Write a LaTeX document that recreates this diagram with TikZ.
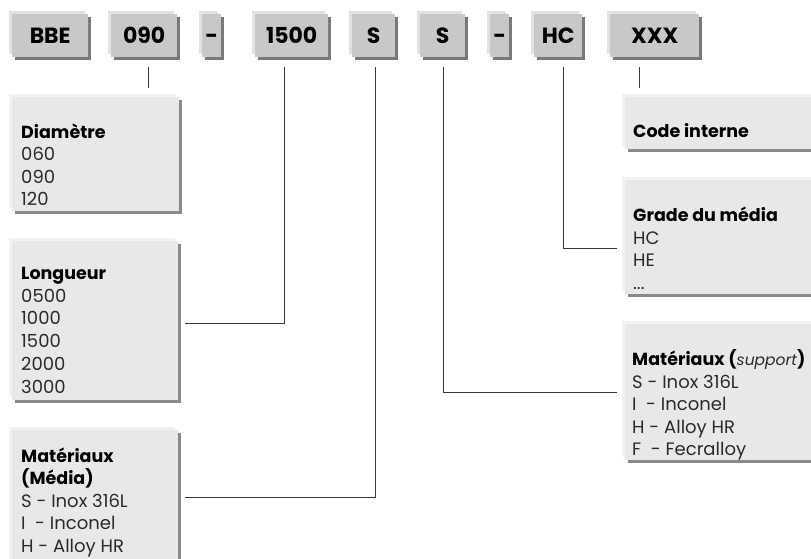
\documentclass[tikz,border=0pt]{standalone}
\usepackage{fontspec}
\setmainfont{Poppins}
\usetikzlibrary{shadows}
\definecolor{cbfill}{HTML}{C8C8C8}
\definecolor{cbhi}{HTML}{E2E2E2}
\definecolor{cbsh}{HTML}{7A7A7A}
\definecolor{dbfill}{HTML}{E8E8E8}
\definecolor{dbhi}{HTML}{F2F2F2}
\definecolor{dbsh}{HTML}{8A8A8A}
\definecolor{linec}{HTML}{3A3A3A}
\definecolor{bodyc}{HTML}{2A2A2A}
\newcommand\dtitle[1]{{\fontsize{17.5}{22.5}\selectfont\bfseries\color{black}#1}}
\newcommand\dbody{\fontsize{18}{22.5}\selectfont}
\begin{document}
\begin{tikzpicture}[x=1pt,y=-1pt,
  codebox/.style={fill=cbfill, anchor=north west, minimum height=43pt, inner sep=0pt,
    text height=15.5pt, text depth=0pt, font=\fontsize{22}{24}\selectfont\bfseries,
    general shadow={fill=cbhi, shadow xshift=-3pt, shadow yshift=3pt},
    general shadow={fill=cbsh, shadow xshift=3pt, shadow yshift=-3pt}},
  descbox/.style={fill=dbfill, anchor=north west, inner sep=0pt,
    general shadow={fill=dbhi, shadow xshift=-3pt, shadow yshift=3pt},
    general shadow={fill=dbsh, shadow xshift=3pt, shadow yshift=-3pt}},
  desctext/.style={anchor=base west, inner sep=0pt, text=bodyc},
  conn/.style={draw=linec, line width=1pt}]
\useasboundingbox (0,0) rectangle (811,559);

% code boxes
\node[codebox, minimum width=76pt] (bbe)   at (12,14)  {BBE};
\node[codebox, minimum width=66pt] (c090)  at (111,14) {090};
\node[codebox, minimum width=19pt] (dash1) at (202,14) {-};
\node[codebox, minimum width=73pt] (c1500) at (255,14) {1500};
\node[codebox, minimum width=43pt] (s1)    at (352,14) {S};
\node[codebox, minimum width=45pt] (s2)    at (420,14) {S};
\node[codebox, minimum width=19pt] (dash2) at (490,14) {-};
\node[codebox, minimum width=48pt] (hc)    at (534,14) {HC};
\node[codebox, minimum width=89pt] (xxx)   at (610,14) {XXX};

% description boxes
\node[descbox, minimum width=167pt, minimum height=114pt] (dia) at (12,97) {};
\node[descbox, minimum width=166pt, minimum height=159pt] (lon) at (12,241) {};
\node[descbox, minimum width=166pt, minimum height=134pt] (med) at (12,430) {};
\node[descbox, minimum width=200pt, minimum height=52pt]  (cod) at (625,97) {};
\node[descbox, minimum width=200pt, minimum height=114pt] (gra) at (625,180) {};
\node[descbox, minimum width=200pt, minimum height=136pt] (sup) at (625,324) {};

% texts
\node[desctext] (diaT) at (21,123.5) {\parbox[t]{150pt}{\dbody\dtitle{Diamètre}\\060\\090\\120}};
\node[desctext] (lonT) at (21,267) {\parbox[t]{150pt}{\fontsize{18}{22.8}\selectfont\dtitle{Longueur}\\0500\\1000\\1500\\2000\\3000}};
\node[desctext] (medT) at (21,447.5) {\parbox[t]{150pt}{\dbody\dtitle{Matériaux}\\\dtitle{(Média)}\\S - Inox 316L\\I~~- Inconel\\H - Alloy HR}};
\node[desctext] (codT) at (633,123) {\parbox[t]{170pt}{\dbody\dtitle{Code interne}}};
\node[desctext] (graT) at (633,207) {\parbox[t]{170pt}{\dbody\dtitle{Grade du média}\\HC\\HE\\...}};
\node[desctext] (supT) at (632,350) {\parbox[t]{175pt}{\dbody\dtitle{Matériaux (}{\fontsize{15.5}{22.5}\selectfont\itshape\color{bodyc}support}\dtitle{)}\\S - Inox 316L\\I~~- Inconel\\H - Alloy HR\\F~~- Fecralloy}};

% tick coordinates
\coordinate (k090)  at (148,67);
\coordinate (k1500) at (284,67);
\coordinate (ks1)   at (375,67);
\coordinate (ks2)   at (443,67);
\coordinate (khc)   at (563,67);
\coordinate (kxxx)  at (639,67);

% connectors
\draw[conn, shorten >=9pt] (k090) -- (k090 |- dia.north);
\draw[conn] (k1500) |- ([xshift=7pt,yshift=-2.5pt]lon.east);
\draw[conn] (ks1) |- ([xshift=7pt]med.east);
\draw[conn] (ks2) |- ([xshift=-8pt]sup.west);
\draw[conn] (khc) |- ([xshift=-8pt,yshift=-11pt]gra.west);
\draw[conn, shorten >=9pt] (kxxx) -- (kxxx |- cod.north);
\end{tikzpicture}
\end{document}
